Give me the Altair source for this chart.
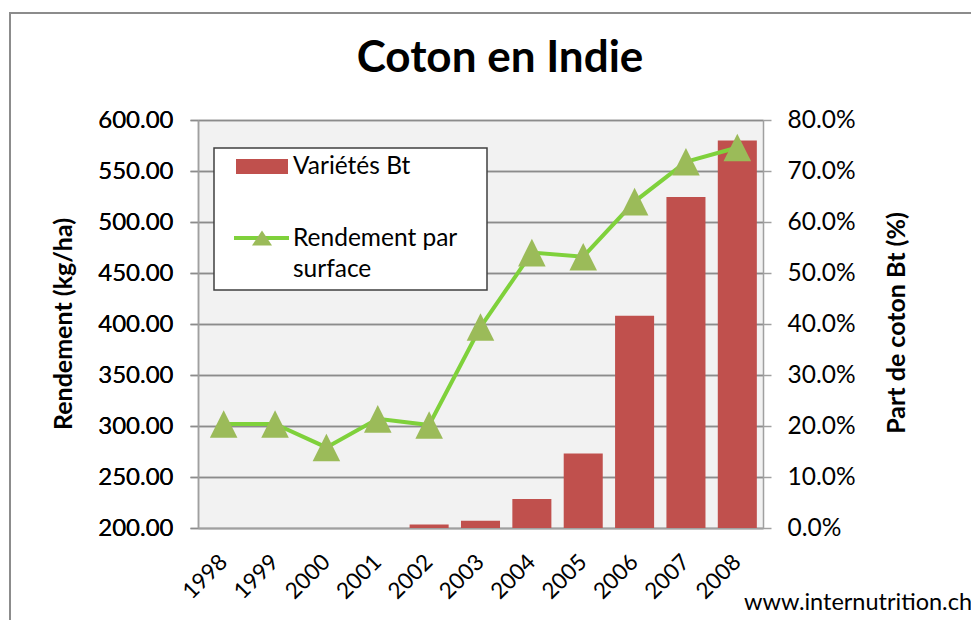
import altair as alt
import pandas as pd

# ---- data ----
years = ["1998", "1999", "2000", "2001", "2002", "2003", "2004", "2005", "2006", "2007", "2008"]
rendement = [302, 302, 279, 307, 301, 397, 470, 466, 520, 559, 573]          # kg/ha (left axis)
part_bt_pct = [0, 0, 0, 0, 0.7, 1.4, 5.7, 14.6, 41.6, 64.9, 76.0]            # % (right axis)

left_ticks = [200, 250, 300, 350, 400, 450, 500, 550, 600]
right_ticks = [0, 0.1, 0.2, 0.3, 0.4, 0.5, 0.6, 0.7, 0.8]

title_text = "Coton en Indie"
left_title = "Rendement (kg/ha)"
right_title = "Part de coton Bt (%)"
legend_bar = "Variétés Bt"
legend_line = ["Rendement par", "surface"]
source_text = "www.internutrition.ch"

df = pd.DataFrame({
    "annee": years,
    "rendement": rendement,
    "part": [p / 100 for p in part_bt_pct],
})
one = pd.DataFrame({"k": [0]})

FONT = "Lato"
W, H = 565, 408
BAR = "#c0504d"
LINE = "#7fd13b"
TRI = "#9bbb59"
GRID = "#8c8c8c"
AXIS = "#a0a0a0"

xenc = alt.X(
    "annee:N", sort=years,
    scale=alt.Scale(paddingInner=0.24, paddingOuter=0.12),
    axis=alt.Axis(title=None, labelAngle=-45, labelAlign="right", labelBaseline="middle",
                  labelPadding=30, labelFontSize=22.5, labelFont=FONT, labelColor="black",
                  domainColor=AXIS, domainWidth=1.5, ticks=False, grid=False),
)

bars = alt.Chart(df).mark_bar(color=BAR).encode(
    x=xenc,
    y=alt.Y("part:Q", scale=alt.Scale(domain=[0, 0.8], nice=False),
            axis=alt.Axis(orient="right", title=None, format=".1%", values=right_ticks, grid=False,
                          tickSize=8, tickColor=AXIS, tickWidth=1.5, labelPadding=16,
                          labelFontSize=24.5, labelFont=FONT, labelColor="black",
                          domainColor=AXIS, domainWidth=1.5)),
)

yleft = alt.Y("rendement:Q", scale=alt.Scale(domain=[200, 600], nice=False),
              axis=alt.Axis(orient="left", title=None, format=".2f", values=left_ticks, grid=True,
                            gridColor=GRID, gridWidth=1.5, tickSize=8, tickColor=GRID, tickWidth=1.5,
                            labelPadding=17, labelFontSize=24, labelFont=FONT, labelColor="black",
                            domainColor=AXIS, domainWidth=1.5))

line = alt.Chart(df).mark_line(color=LINE, strokeWidth=4).encode(x=xenc, y=yleft)
points = alt.Chart(df).mark_point(shape="M0,-1L1,1L-1,1Z", filled=True, fill=TRI, opacity=1,
                                  size=760, strokeWidth=0).encode(x=xenc, y=yleft)

# ---- decorations (frame, title, axis titles, legend, source) ----
frame = alt.Chart(one).mark_rect(fillOpacity=0, stroke=GRID, strokeWidth=2).encode(
    x=alt.value(-188), x2=alt.value(1000), y=alt.value(-107), y2=alt.value(1000))

title = alt.Chart(one).mark_text(text=title_text, font=FONT, fontSize=44, fontWeight="bold",
                                 align="center", baseline="alphabetic", color="black").encode(
    x=alt.value(302), y=alt.value(-48))

ltitle = alt.Chart(one).mark_text(text=left_title, font=FONT, fontSize=25, fontWeight="bold",
                                  align="center", baseline="middle", angle=270, color="black").encode(
    x=alt.value(-134), y=alt.value(204))
rtitle = alt.Chart(one).mark_text(text=right_title, font=FONT, fontSize=25, fontWeight="bold",
                                  align="center", baseline="middle", angle=270, color="black").encode(
    x=alt.value(699), y=alt.value(203))

source = alt.Chart(one).mark_text(text=source_text, font=FONT, fontSize=23.5, align="right",
                                  baseline="alphabetic", color="black").encode(
    x=alt.value(774), y=alt.value(490))

leg_box = alt.Chart(one).mark_rect(fill="white", stroke="#404040", strokeWidth=1.5).encode(
    x=alt.value(16), x2=alt.value(289), y=alt.value(28), y2=alt.value(170))
leg_sw = alt.Chart(one).mark_rect(fill=BAR).encode(
    x=alt.value(38), x2=alt.value(90), y=alt.value(39), y2=alt.value(54))
leg_t1 = alt.Chart(one).mark_text(text=legend_bar, font=FONT, fontSize=24.5, align="left",
                                  baseline="middle", color="black").encode(x=alt.value(95), y=alt.value(47))
leg_ln = alt.Chart(one).mark_rule(color=LINE, strokeWidth=4).encode(
    x=alt.value(36), x2=alt.value(91), y=alt.value(118))
leg_tri = alt.Chart(one).mark_point(shape="M0,-0.75L1,0.75L-1,0.75Z", filled=True, fill=TRI, opacity=1,
                                    size=400, strokeWidth=0).encode(x=alt.value(64), y=alt.value(118))
leg_t2 = alt.Chart(one).mark_text(text=legend_line[0], font=FONT, fontSize=24.5, align="left",
                                  baseline="middle", color="black").encode(x=alt.value(95), y=alt.value(119))
leg_t3 = alt.Chart(one).mark_text(text=legend_line[1], font=FONT, fontSize=24.5, align="left",
                                  baseline="middle", color="black").encode(x=alt.value(95), y=alt.value(150))

chart = alt.layer(
    bars, line, points,
    frame, title, ltitle, rtitle, source,
    leg_box, leg_sw, leg_t1, leg_ln, leg_tri, leg_t2, leg_t3,
).resolve_scale(y="independent").properties(
    width=W, height=H,
    autosize=alt.AutoSizeParams(type="none"),
    padding={"left": 190, "top": 112, "right": 208, "bottom": 92},
).configure(background="white").configure_view(fill="#f2f2f2", strokeOpacity=0)

chart.save("out.html", embed_options={"renderer": "svg", "actions": False})
